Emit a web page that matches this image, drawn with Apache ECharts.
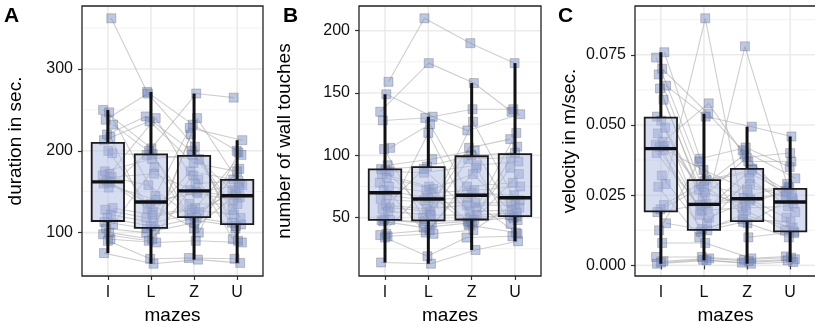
<!DOCTYPE html>
<html>
<head>
<meta charset="utf-8">
<script src="https://cdn.jsdelivr.net/npm/echarts@6/dist/echarts.min.js"></script>
<style>
  html, body { margin: 0; padding: 0; background: #fff; }
  #chart { width: 815px; height: 324px; }
</style>
</head>
<body>
<div id="chart"></div>
<script>
var mazes = ["I", "L", "Z", "U"];

// one value per subject (same order in every maze)
var durI = [362, 250, 247, 238, 232, 220, 217, 213, 200, 197, 175, 172, 170, 168, 163, 161, 160, 155, 130, 128, 122, 118, 113, 110, 105, 100, 98, 92, 90, 75];
var durL = [272, 203, 145, 270, 196, 242, 104, 236, 125, 195, 190, 240, 158, 172, 135, 130, 140, 200, 122, 118, 112, 108, 105, 180, 100, 92, 90, 88, 68, 62];
var durZ = [232, 270, 228, 205, 100, 200, 240, 185, 175, 190, 195, 160, 122, 150, 105, 152, 148, 135, 130, 128, 125, 170, 118, 116, 112, 165, 220, 90, 69, 67];
var durU = [200, 265, 213, 105, 198, 128, 160, 175, 165, 118, 152, 163, 150, 158, 147, 143, 140, 135, 195, 122, 155, 112, 110, 108, 178, 92, 90, 88, 68, 63];

var touchI = [159, 135, 149, 128, 106, 105, 92, 89, 88, 87, 85, 82, 78, 75, 72, 68, 65, 60, 58, 57, 55, 49, 48, 48, 47, 37, 36, 35, 34, 14];
var touchL = [210, 174, 131, 130, 125, 50, 97, 91, 53, 86, 75, 73, 38, 70, 66, 64, 62, 57, 55, 89, 52, 118, 47, 45, 42, 40, 72, 37, 19, 13];
var touchZ = [190, 158, 120, 137, 58, 106, 104, 100, 97, 92, 45, 85, 75, 72, 70, 66, 62, 60, 127, 55, 52, 50, 48, 47, 46, 90, 44, 40, 34, 24];
var touchU = [174, 135, 133, 137, 118, 113, 48, 102, 98, 95, 90, 51, 78, 75, 68, 37, 62, 60, 58, 56, 54, 52, 85, 50, 107, 45, 38, 64, 35, 31];

var velI = [0.0759, 0.0740, 0.0700, 0.0680, 0.0640, 0.0630, 0.0590, 0.0530, 0.0515, 0.0490, 0.0470, 0.0440, 0.0430, 0.0425, 0.0422, 0.0410, 0.0400, 0.0320, 0.0290, 0.0280, 0.0215, 0.0200, 0.0190, 0.0150, 0.0125, 0.0080, 0.0030, 0.0015, 0.0010, 0.0006];
var velL = [0.0380, 0.0300, 0.0540, 0.0290, 0.0530, 0.0270, 0.0205, 0.0240, 0.0220, 0.0180, 0.0260, 0.0577, 0.0195, 0.0150, 0.0340, 0.0120, 0.0170, 0.0130, 0.0880, 0.0100, 0.0305, 0.0280, 0.0215, 0.0125, 0.0370, 0.0080, 0.0030, 0.0025, 0.0020, 0.0018];
var velZ = [0.0420, 0.0330, 0.0410, 0.0250, 0.0494, 0.0395, 0.0290, 0.0385, 0.0240, 0.0345, 0.0215, 0.0370, 0.0205, 0.0310, 0.0270, 0.0180, 0.0235, 0.0165, 0.0100, 0.0780, 0.0340, 0.0195, 0.0230, 0.0155, 0.0150, 0.0025, 0.0020, 0.0015, 0.0010, 0.0006];
var velU = [0.0350, 0.0260, 0.0310, 0.0280, 0.0459, 0.0245, 0.0232, 0.0400, 0.0250, 0.0220, 0.0265, 0.0370, 0.0210, 0.0190, 0.0275, 0.0135, 0.0170, 0.0155, 0.0120, 0.0290, 0.0255, 0.0125, 0.0115, 0.0100, 0.0240, 0.0032, 0.0028, 0.0022, 0.0018, 0.0012];

// horizontal jitter of the points (in category units)
var jitter = [0.08, -0.11, 0.03, -0.05, 0.12, -0.02, 0.06, -0.09, 0.01, 0.10, -0.07, 0.04, -0.12, 0.09, -0.03, 0.05, -0.10, 0.02, 0.11, -0.06, 0.07, -0.01, -0.08, 0.12, -0.04, 0.03, -0.11, 0.06, 0.00, -0.09];

var durTicks = [100, 200, 300];
var durMinor = [50, 150, 250, 350];
var touchTicks = [50, 100, 150, 200];
var touchMinor = [25, 75, 125, 175];
var velTicks = [0, 0.025, 0.05, 0.075];
var velMinor = [0.0125, 0.0375, 0.0625, 0.0875];

var panels = [
  { tag: "A", vals: [durI, durL, durZ, durU], ticks: durTicks, minor: durMinor, title: "duration in sec.", dec: 0,
    grid: { left: 82, top: 6, width: 181, height: 270 }, gap: 57, tagX: 4 },
  { tag: "B", vals: [touchI, touchL, touchZ, touchU], ticks: touchTicks, minor: touchMinor, title: "number of wall touches", dec: 0,
    grid: { left: 359, top: 6, width: 182, height: 270 }, gap: 65, tagX: 283 },
  { tag: "C", vals: [velI, velL, velZ, velU], ticks: velTicks, minor: velMinor, title: "velocity in m/sec.", dec: 3,
    grid: { left: 635, top: 6, width: 181, height: 270 }, gap: 56, tagX: 558 }
];

function quantile(s, p) {
  var h = (s.length - 1) * p, lo = Math.floor(h);
  var hi = Math.min(lo + 1, s.length - 1);
  return s[lo] + (h - lo) * (s[hi] - s[lo]);
}

function boxStats(v) {
  var s = v.slice().sort(function (a, b) { return a - b; });
  var q1 = quantile(s, 0.25), md = quantile(s, 0.5), q3 = quantile(s, 0.75);
  var iqr = q3 - q1;
  var inside = s.filter(function (x) { return x >= q1 - 1.5 * iqr && x <= q3 + 1.5 * iqr; });
  return [inside[0], q1, md, q3, inside[inside.length - 1]];
}

function renderBox(params, api) {
  var x = api.value(0);
  var lo = api.coord([x, api.value(1)]);
  var q1 = api.coord([x, api.value(2)]);
  var md = api.coord([x, api.value(3)]);
  var q3 = api.coord([x, api.value(4)]);
  var hi = api.coord([x, api.value(5)]);
  var half = api.size([0.75, 0])[0] / 2;
  return {
    type: "group",
    children: [
      { type: "line", shape: { x1: lo[0], y1: lo[1], x2: q1[0], y2: q1[1] },
        style: { stroke: "#111", lineWidth: 3 } },
      { type: "line", shape: { x1: q3[0], y1: q3[1], x2: hi[0], y2: hi[1] },
        style: { stroke: "#111", lineWidth: 3 } },
      { type: "rect", shape: { x: q3[0] - half, y: q3[1], width: 2 * half, height: q1[1] - q3[1] },
        style: { fill: "rgba(175,188,228,0.5)", stroke: "#1a1a1a", lineWidth: 1.8 } },
      { type: "line", shape: { x1: md[0] - half, y1: md[1], x2: md[0] + half, y2: md[1] },
        style: { stroke: "#111", lineWidth: 3.4 } }
    ]
  };
}

// background grid lines: item = [x, y, kind]; kind 0 minor-h, 1 major-h, 2 major-v
function renderGrid(params, api) {
  var cs = params.coordSys;
  var kind = api.value(2);
  if (kind === 2) {
    var px = api.coord([api.value(0), api.value(1)])[0];
    return { type: "line", shape: { x1: px, y1: cs.y, x2: px, y2: cs.y + cs.height },
      style: { stroke: "#ebebeb", lineWidth: 1.6 } };
  }
  var py = api.coord([api.value(0), api.value(1)])[1];
  return { type: "line", shape: { x1: cs.x, y1: py, x2: cs.x + cs.width, y2: py },
    style: { stroke: kind === 1 ? "#ebebeb" : "#f1f1f1", lineWidth: kind === 1 ? 1.6 : 0.9 } };
}

var option = {
  animation: false,
  grid: [],
  xAxis: [],
  yAxis: [],
  series: [],
  graphic: []
};

panels.forEach(function (p, gi) {
  var all = [].concat.apply([], p.vals);
  var mn = Math.min.apply(null, all), mx = Math.max.apply(null, all);
  var pad = (mx - mn) * 0.05;

  option.grid.push(Object.assign({
    show: true, borderColor: "#222", borderWidth: 1.3, backgroundColor: "transparent", z: 10,
    containLabel: false, outerBoundsMode: "none"
  }, p.grid));

  option.xAxis.push({
    gridIndex: gi, type: "value", min: 0.4, max: 4.6,
    axisLine: { show: false },
    splitLine: { show: false },
    axisTick: { customValues: [1, 2, 3, 4], length: 4, lineStyle: { color: "#333", width: 1.2 } },
    axisLabel: { customValues: [1, 2, 3, 4], formatter: function (v) { return mazes[v - 1]; },
      fontSize: 16, color: "#111", margin: 9, fontFamily: "Liberation Sans" },
    name: "mazes", nameLocation: "middle", nameGap: 30,
    nameTextStyle: { fontSize: 19, color: "#000", fontFamily: "Liberation Sans" }
  });

  option.yAxis.push({
    gridIndex: gi, type: "value", min: mn - pad, max: mx + pad,
    axisLine: { show: false },
    splitLine: { show: false },
    axisTick: { customValues: p.ticks, length: 4, lineStyle: { color: "#333", width: 1.2 } },
    axisLabel: { customValues: p.ticks, formatter: function (v) { return v.toFixed(p.dec); },
      fontSize: 16, color: "#111", margin: 9, fontFamily: "Liberation Sans" },
    name: p.title, nameLocation: "middle", nameGap: p.gap, nameRotate: 90,
    nameTextStyle: { fontSize: 19, color: "#000", fontFamily: "Liberation Sans" }
  });

  // grid lines
  var gl = [];
  p.minor.forEach(function (v) { gl.push([1, v, 0]); });
  p.ticks.forEach(function (v) { gl.push([1, v, 1]); });
  [1, 2, 3, 4].forEach(function (v) { gl.push([v, p.ticks[0], 2]); });
  option.series.push({
    type: "custom", xAxisIndex: gi, yAxisIndex: gi, data: gl, z: 0, silent: true,
    renderItem: renderGrid
  });

  // subject lines
  var n = p.vals[0].length;
  for (var s = 0; s < n; s++) {
    var line = [];
    for (var c = 0; c < 4; c++) {
      line.push([c + 1 + jitter[(s + 7 * c) % n], p.vals[c][s]]);
    }
    option.series.push({
      type: "line", xAxisIndex: gi, yAxisIndex: gi, data: line, z: 1, silent: true,
      symbol: "none", lineStyle: { color: "rgba(165,165,165,0.55)", width: 1.1 }
    });
  }

  // points
  var pts = [];
  for (var c2 = 0; c2 < 4; c2++) {
    for (var s2 = 0; s2 < n; s2++) {
      pts.push([c2 + 1 + jitter[(s2 + 7 * c2) % n], p.vals[c2][s2]]);
    }
  }
  option.series.push({
    type: "scatter", xAxisIndex: gi, yAxisIndex: gi, data: pts, z: 2, silent: true,
    symbol: "rect", symbolSize: 9,
    itemStyle: { color: "rgba(105,130,192,0.55)", borderColor: "rgba(90,90,100,0.4)", borderWidth: 1 }
  });

  // boxplots
  var boxes = p.vals.map(function (v, c) { return [c + 1].concat(boxStats(v)); });
  option.series.push({
    type: "custom", xAxisIndex: gi, yAxisIndex: gi, data: boxes, z: 3, silent: true,
    renderItem: renderBox
  });

  option.graphic.push({
    type: "text", left: p.tagX, top: 6,
    style: { text: p.tag, font: "bold 21px 'Liberation Sans'", fill: "#000" }
  });
});

var myChart = echarts.init(document.getElementById("chart"));
myChart.setOption(option);
</script>
</body>
</html>
